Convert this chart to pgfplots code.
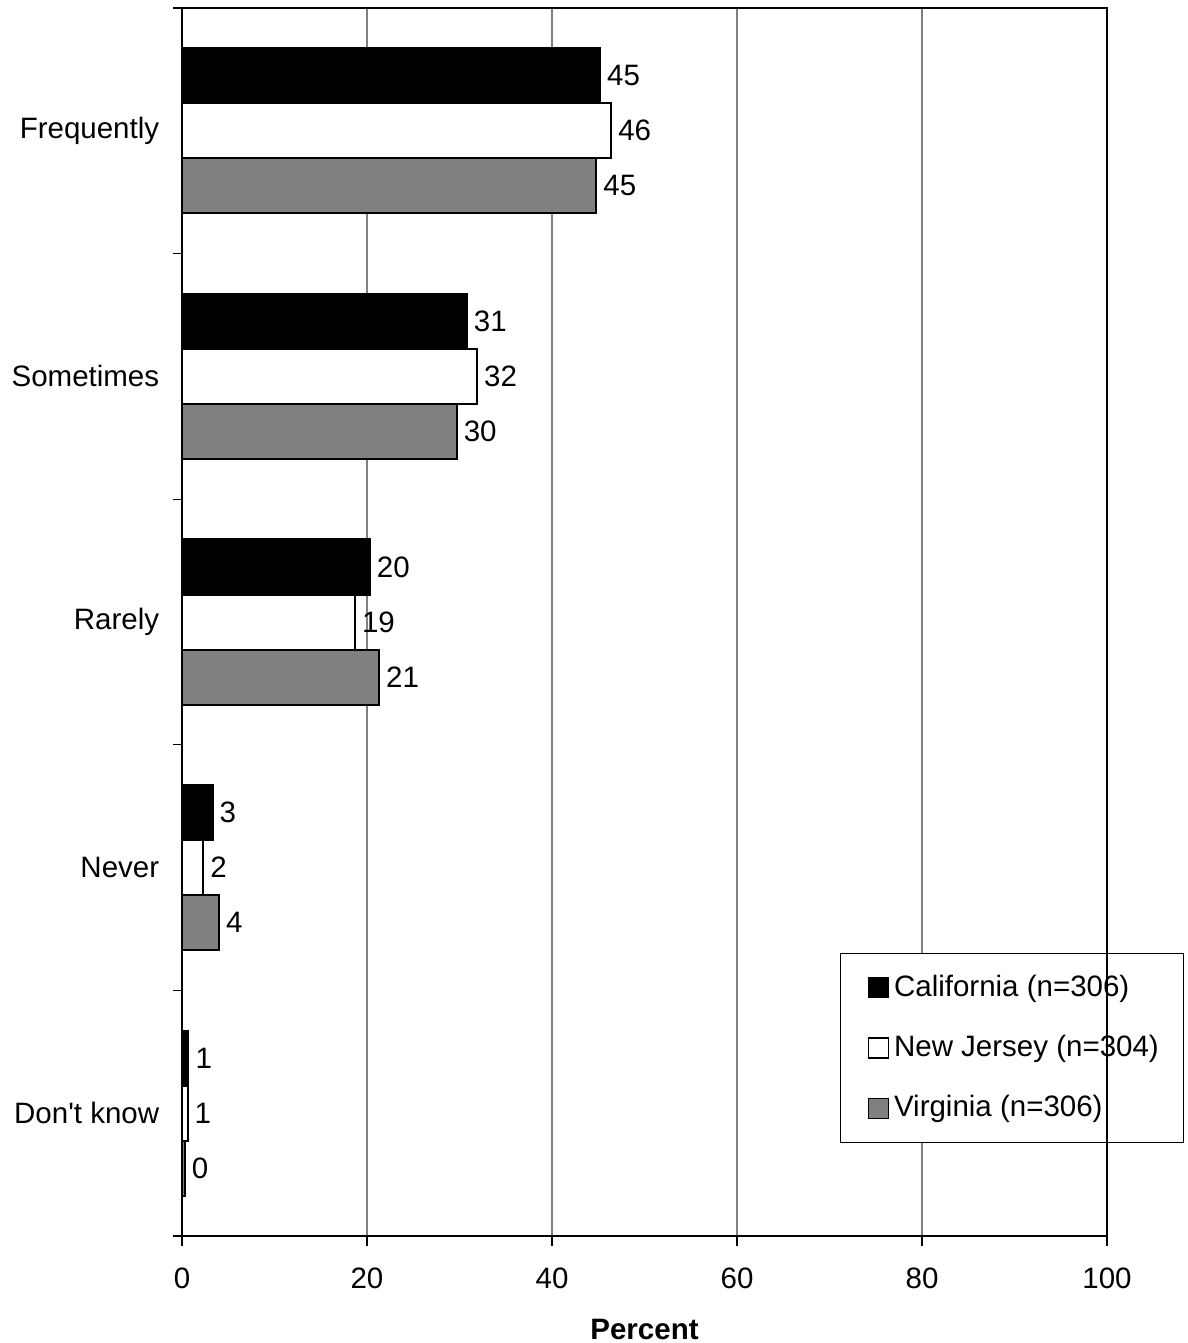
\documentclass[border=0pt]{standalone}
\usepackage{fontspec}
\setmainfont{Liberation Sans}
\usepackage{pgfplots}
\pgfplotsset{compat=1.18}
\usepackage{pgfplotstable}
\definecolor{vagray}{RGB}{128,128,128}
\pgfplotstableread{
y CA NJ VA
0 45.2 46.4 44.8
1 30.8 31.9 29.7
2 20.3 18.7 21.3
3 3.3 2.3 4.0
4 0.7 0.6 0.3
}\datatable
\begin{document}
\fontsize{11.8}{14}\selectfont
\begin{tikzpicture}
\begin{axis}[
  name=ax,
  scale only axis,
  width=370pt, height=491.2pt,
  xbar, bar width=0.224,
  y dir=reverse,
  xmin=0, xmax=100, ymin=-0.5, ymax=4.5,
  xtick={0,20,...,100},
  ytick={0,1,2,3,4},
  yticklabels={Frequently,Sometimes,Rarely,Never,Don\textquotesingle t know},
  minor ytick={-0.5,0.5,1.5,2.5,3.5,4.5},
  major tick length=4pt,
  minor tick length=3.6pt,
  tick align=outside,
  xtick style={draw=black, line width=0.5pt},
  major y tick style={draw=none},
  minor tick style={draw=black, line width=0.5pt},
  xmajorgrids,
  major grid style={draw=vagray, line width=0.45pt},
  axis line style={line width=0.9pt},
  axis x line*=bottom, axis y line*=left,
  /pgf/number format/assume math mode=true,
  /pgf/number format/fixed, /pgf/number format/precision=0,
  font=\fontsize{11.8}{14}\selectfont,
  ticklabel style={font=\fontsize{11.8}{14}\selectfont},
  yticklabel style={xshift=-1pt},
  xticklabel style={yshift=-4.7pt},
  xlabel={\textbf{Percent}},
  xlabel style={yshift=-4pt},
  nodes near coords,
  nodes near coords style={font=\fontsize{11.8}{14}\selectfont, xshift=-1.5pt},
  every axis plot/.append style={draw=black, line width=0.8pt},
  clip=false,
  legend cell align=left,
  legend style={at={(rel axis cs:0.711,0.2305)}, anchor=north west,
    draw=black, line width=0.5pt, inner xsep=8pt, inner ysep=6.5pt,
    row sep=9.8pt, font=\fontsize{11.8}{14}\selectfont},
  legend image code/.code={\path (0pt,0pt); \draw[#1, draw=black, line width=0.6pt] (2.8pt,-4pt) rectangle (10.8pt,4pt);},
]
\addplot[fill=black, bar shift=-0.224] table[x=CA, y=y] {\datatable};
\addplot[fill=white, bar shift=0] table[x=NJ, y=y] {\datatable};
\addplot[fill=vagray, bar shift=0.224] table[x=VA, y=y] {\datatable};
\legend{California (n=306), New Jersey (n=304), Virginia (n=306)}
\end{axis}
\draw[line width=0.9pt] (ax.north west) -- (ax.north east) -- (ax.south east);
\pgfresetboundingbox
\path[use as bounding box] ([shift={(-72.8pt,-42.8pt)}]ax.south west) rectangle ([shift={(32.4pt,3.2pt)}]ax.north east);
\end{tikzpicture}
\end{document}
